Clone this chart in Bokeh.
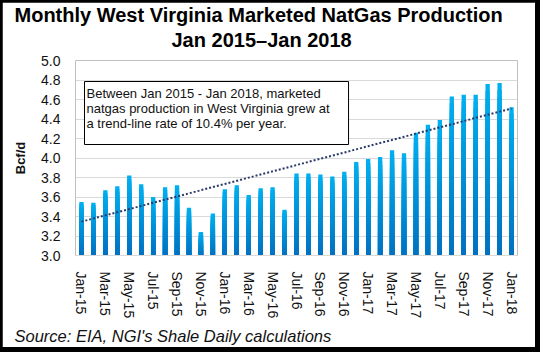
import numpy as np
from bokeh.plotting import figure
from bokeh.models import Range1d, FixedTicker, PrintfTickFormatter, Label, ColumnDataSource, Title
from bokeh.layouts import column
from bokeh.embed import file_html
from bokeh.resources import INLINE

# ---------------- data ----------------
months = ["Jan-15", "Feb-15", "Mar-15", "Apr-15", "May-15", "Jun-15",
          "Jul-15", "Aug-15", "Sep-15", "Oct-15", "Nov-15", "Dec-15",
          "Jan-16", "Feb-16", "Mar-16", "Apr-16", "May-16", "Jun-16",
          "Jul-16", "Aug-16", "Sep-16", "Oct-16", "Nov-16", "Dec-16",
          "Jan-17", "Feb-17", "Mar-17", "Apr-17", "May-17", "Jun-17",
          "Jul-17", "Aug-17", "Sep-17", "Oct-17", "Nov-17", "Dec-17",
          "Jan-18"]
production = [3.55, 3.54, 3.67, 3.71, 3.82, 3.73, 3.60, 3.70, 3.72, 3.49, 3.24, 3.43,
              3.68, 3.72, 3.62, 3.69, 3.70, 3.47, 3.84, 3.84, 3.83, 3.81, 3.86, 3.96,
              3.99, 4.01, 4.08, 4.05, 4.26, 4.34, 4.39, 4.63, 4.65, 4.65, 4.76, 4.77,
              4.52]
y_ticks = [3.0, 3.2, 3.4, 3.6, 3.8, 4.0, 4.2, 4.4, 4.6, 4.8, 5.0]
title_lines = ["Monthly West Virginia Marketed NatGas Production", "Jan 2015\u2013Jan 2018"]
note_text = ("Between Jan 2015 - Jan 2018, marketed\n"
             "natgas production in West Virginia grew at\n"
             "a trend-line rate of 10.4% per year.")
source_text = "Source: EIA, NGI's Shale Daily calculations"
y_label = "Bcf/d"

FONT = "Liberation Sans"
base = y_ticks[0]
idx = list(range(len(months)))

p = figure(width=533, height=345, title=None,
           x_range=Range1d(-0.5, len(months) - 0.5),
           y_range=Range1d(y_ticks[0], y_ticks[-1]),
           output_backend="svg", toolbar_location=None,
           min_border_left=73, min_border_right=18,
           min_border_top=58, min_border_bottom=90,
           background_fill_color="white", border_fill_color="white")
p.outline_line_color = None
p.margin = (2, 5, 5, 2)

# gradient bars: layered segments from base to fraction of each value
N = 24
c_bot = np.array([0x00, 0x70, 0xC0], dtype=float)
c_top = np.array([0x00, 0xB0, 0xF0], dtype=float)
xs, tops, cols = [], [], []
for k in reversed(range(N)):
    t = (k + 0.5) / N
    c = c_bot + (c_top - c_bot) * t
    hexc = "#%02x%02x%02x" % tuple(int(round(v)) for v in c)
    for i, v in enumerate(production):
        xs.append(i)
        tops.append(base + (v - base) * (k + 1) / N)
        cols.append(hexc)
src = ColumnDataSource(dict(x=xs, top=tops, color=cols))
p.vbar(x="x", top="top", bottom=base, width=0.36, fill_color="color",
       line_color=None, source=src)

# linear trend line
coef = np.polyfit(idx, production, 1)
p.line(idx, np.polyval(coef, idx), line_color="#2b3a67", line_width=2, line_dash="2 2")

# axes
p.xaxis.ticker = FixedTicker(ticks=idx[::2])
p.xaxis.major_label_overrides = {i: months[i] for i in idx[::2]}
p.xaxis.major_label_orientation = "vertical"
p.xaxis.major_label_text_font = FONT
p.xaxis.major_label_text_font_size = "14px"
p.xaxis.major_label_text_color = "#111111"
p.xaxis.axis_line_color = "#d9d9d9"
p.xaxis.major_tick_line_color = None
p.xaxis.minor_tick_line_color = None
p.xaxis.major_label_standoff = 10

p.yaxis.ticker = FixedTicker(ticks=y_ticks)
p.yaxis.formatter = PrintfTickFormatter(format="%.1f")
p.yaxis.major_label_text_font = FONT
p.yaxis.major_label_text_font_size = "14px"
p.yaxis.major_label_text_color = "#111111"
p.yaxis.axis_line_color = None
p.yaxis.major_tick_line_color = None
p.yaxis.minor_tick_line_color = None
p.yaxis.major_label_standoff = 9
p.yaxis.axis_label = y_label
p.yaxis.axis_label_text_font = FONT
p.yaxis.axis_label_text_font_size = "13px"
p.yaxis.axis_label_text_font_style = "bold"
p.yaxis.axis_label_text_color = "#111111"
p.yaxis.axis_label_standoff = 10

p.xgrid.grid_line_color = None
p.ygrid.grid_line_color = "#d9d9d9"
p.ygrid.ticker = FixedTicker(ticks=y_ticks)

# title lines (line 2 nearest the plot)
p.add_layout(Title(text=title_lines[1], align="left", offset=96, standoff=20,
                   text_font=FONT, text_font_size="20px", text_font_style="bold",
                   text_color="black"), "above")
p.add_layout(Title(text=title_lines[0], align="left", offset=-61, standoff=-19,
                   text_font=FONT, text_font_size="20px", text_font_style="bold",
                   text_color="black"), "above")

# note box
p.add_layout(Label(x=82, y=79, x_units="canvas", y_units="canvas", text=note_text,
                   text_align="left", text_baseline="top",
                   text_font=FONT, text_font_size="13px", text_line_height=1.0,
                   text_color="#111111",
                   padding=(2, 19, 4, 14),
                   border_line_color="black", border_line_width=1,
                   background_fill_color="white"))

# source
p.add_layout(Title(text=source_text, align="left", offset=-61, standoff=6,
                   text_font=FONT, text_font_size="16.5px", text_font_style="italic",
                   text_color="#111111"), "below")

layout = column(p, styles={"background-color": "black"})
open("out.html", "w").write(file_html(layout, INLINE))
